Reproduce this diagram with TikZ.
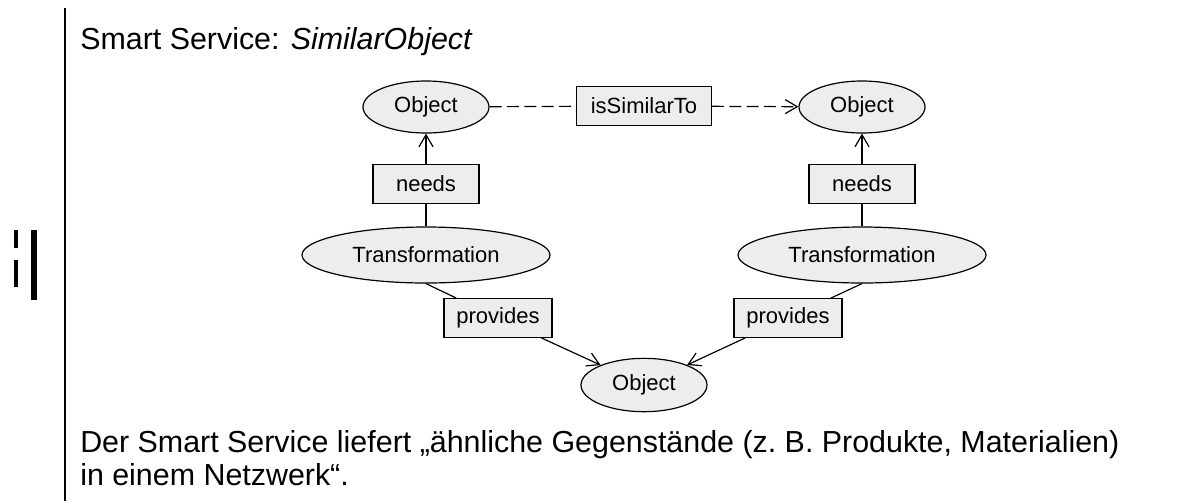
\documentclass[tikz,border=0pt]{standalone}
\usepackage{fontspec}
\setmainfont{Liberation Sans}
\usetikzlibrary{arrows.meta,shapes.geometric}
\begin{document}
\begin{tikzpicture}[x=0.75pt,y=-0.75pt,
  lblfont/.style={font=\fontsize{16.5}{19}\selectfont},
  obj/.style={ellipse,draw=black,fill=black!7,line width=0.9pt,inner sep=0pt,lblfont},
  lbl/.style={rectangle,draw=black,fill=black!7,line width=0.9pt,inner sep=0pt,minimum height=29pt,lblfont},
  conn/.style={line width=0.9pt},
  tip/.style={-{Straight Barb[length=9pt,width=10.5pt,line width=0.9pt]}},
  simline/.style={conn,dash pattern=on 9pt off 4pt},
  bodytext/.style={anchor=base west,inner sep=0pt,font=\fontsize{22.8}{24}\selectfont}
]
\useasboundingbox (0,0) rectangle (1180,501);

% left margin marks
\draw[line width=2pt] (65,8) -- (65,501);
\draw[line width=3pt] (16,230) -- (16,248);
\draw[line width=3pt] (16,260) -- (16,287);
\draw[line width=3.8pt] (34,230) -- (34,300);

% texts
\node[bodytext] (title) at (80,49) {Smart Service: \textit{SimilarObject}};
\node[bodytext] (line1) at (80,452) {Der Smart Service liefert „ähnliche Gegenstände (z.\ B. Produkte, Materialien)};
\node[bodytext] (line2) at (80,485) {in einem Netzwerk“.};

% nodes
\node[obj,minimum width=94.5pt,minimum height=39pt] (O1) at (426,107) {Object};
\node[obj,minimum width=94.5pt,minimum height=39pt] (O2) at (862,107) {Object};
\node[obj,minimum width=94.5pt,minimum height=40pt] (O3) at (644,385) {Object};
\node[obj,minimum width=186pt,minimum height=42pt] (T1) at (426,255) {Transformation};
\node[obj,minimum width=186pt,minimum height=42pt] (T2) at (862,255) {Transformation};
\node[lbl,minimum width=101pt] (S) at (644,106) {isSimilarTo};
\node[lbl,minimum width=79.5pt] (N1) at (426,184) {needs};
\node[lbl,minimum width=79.5pt] (N2) at (862,184) {needs};
\node[lbl,minimum width=81pt] (P1) at (498,318) {provides};
\node[lbl,minimum width=81pt] (P2) at (788,318) {provides};

% connectors
\draw[simline] (O1) -- (S);
\draw[simline,tip] (S) -- (O2);
\draw[conn] (T1) -- (N1);
\draw[conn,tip] (N1) -- (O1);
\draw[conn] (T2) -- (N2);
\draw[conn,tip] (N2) -- (O2);
\draw[conn] (T1.south) -- (P1);
\draw[conn,tip] (P1) -- (O3);
\draw[conn] (T2.south) -- (P2);
\draw[conn,tip] (P2) -- (O3);
\end{tikzpicture}
\end{document}
